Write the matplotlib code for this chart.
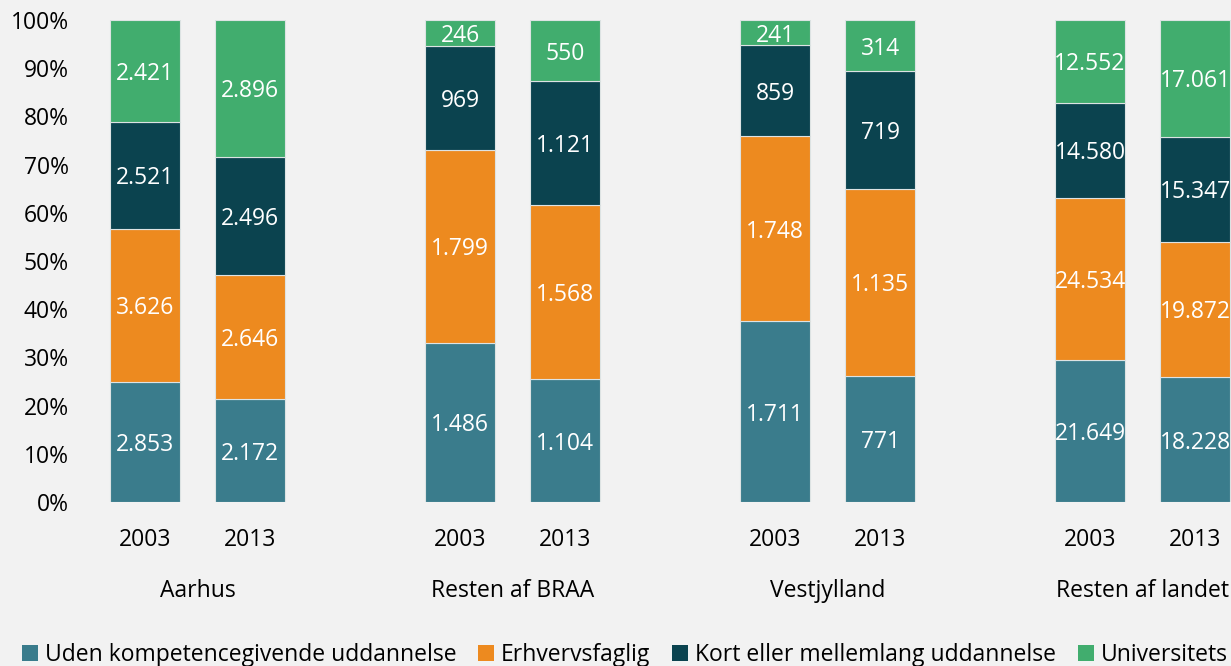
import matplotlib
matplotlib.use("Agg")
import matplotlib.pyplot as plt
from matplotlib.patches import Patch
from matplotlib.transforms import blended_transform_factory
import numpy as np

plt.rcParams['font.family'] = ['Open Sans', 'DejaVu Sans']

regions = ['Aarhus', 'Resten af BRAA', 'Vestjylland', 'Resten af landet']
years = ['2003', '2013']
categories = ['Uden kompetencegivende uddannelse', 'Erhvervsfaglig',
              'Kort eller mellemlang uddannelse', 'Universitets']
colors = ['#3A7C8C', '#ED8A1F', '#0B434F', '#41AD6E']

# counts per bar: (region, year) -> one value per category
uden = [2853, 2172, 1486, 1104, 1711, 771, 21649, 18228]
erhverv = [3626, 2646, 1799, 1568, 1748, 1135, 24534, 19872]
kort = [2521, 2496, 969, 1121, 859, 719, 14580, 15347]
univ = [2421, 2896, 246, 550, 241, 314, 12552, 17061]

counts = np.array([uden, erhverv, kort, univ], dtype=float)
shares = counts / counts.sum(axis=0) * 100

pos = np.array([g * 3 + j for g in range(len(regions)) for j in range(len(years))], dtype=float)

W, H = 1231, 666
fs = 16.5
fig = plt.figure(figsize=(W / 100, H / 100), dpi=100)
fig.patch.set_facecolor('#F2F2F2')

left_px, right_px, top_px, bot_px = 80, 1231, 20, 502
ax = fig.add_axes([left_px / W, 1 - bot_px / H, (right_px - left_px) / W, (bot_px - top_px) / H])
ax.set_facecolor('#F2F2F2')

bottom = np.zeros(len(pos))
for k in range(len(categories)):
    ax.bar(pos, shares[k], bottom=bottom, width=0.667, color=colors[k],
           edgecolor='#DDE3E3', linewidth=0.8, label=categories[k])
    for x, b, s, c in zip(pos, bottom, shares[k], counts[k]):
        ax.text(x, b + s / 2, f"{int(c):,}".replace(",", "."), ha='center', va='center_baseline',
                color='white', fontsize=fs)
    bottom += shares[k]

# bar centre of first bar at 145px, 105px between bars
x0 = (left_px - 145) / 105
x1 = (right_px - 145) / 105
ax.set_xlim(x0, x1)
ax.set_ylim(0, 100)
ax.set_yticks(range(0, 101, 10))
ax.set_yticklabels([f"{v}%" for v in range(0, 101, 10)], fontsize=fs)
ax.set_xticks(pos)
ax.set_xticklabels(years * len(regions), fontsize=fs)
ax.tick_params(axis='x', length=0, pad=19)
ax.tick_params(axis='y', length=0, pad=8)
for sp in ax.spines.values():
    sp.set_visible(False)

trans = blended_transform_factory(ax.transData, ax.transAxes)
for g, name in enumerate(regions):
    ax.text(g * 3 + 0.5, -0.184, name, transform=trans, ha='center', va='center', fontsize=fs)

handles = [Patch(facecolor=c, edgecolor='none') for c in colors]
fig.legend(handles, categories, loc='center left', bbox_to_anchor=(22 / W, 1 - 655 / H),
           ncol=4, frameon=False, fontsize=fs, handlelength=0.7, handleheight=0.7,
           handletextpad=0.3, columnspacing=0.95, borderaxespad=0, borderpad=0)

fig.savefig('out.png', dpi=100, facecolor=fig.get_facecolor())
